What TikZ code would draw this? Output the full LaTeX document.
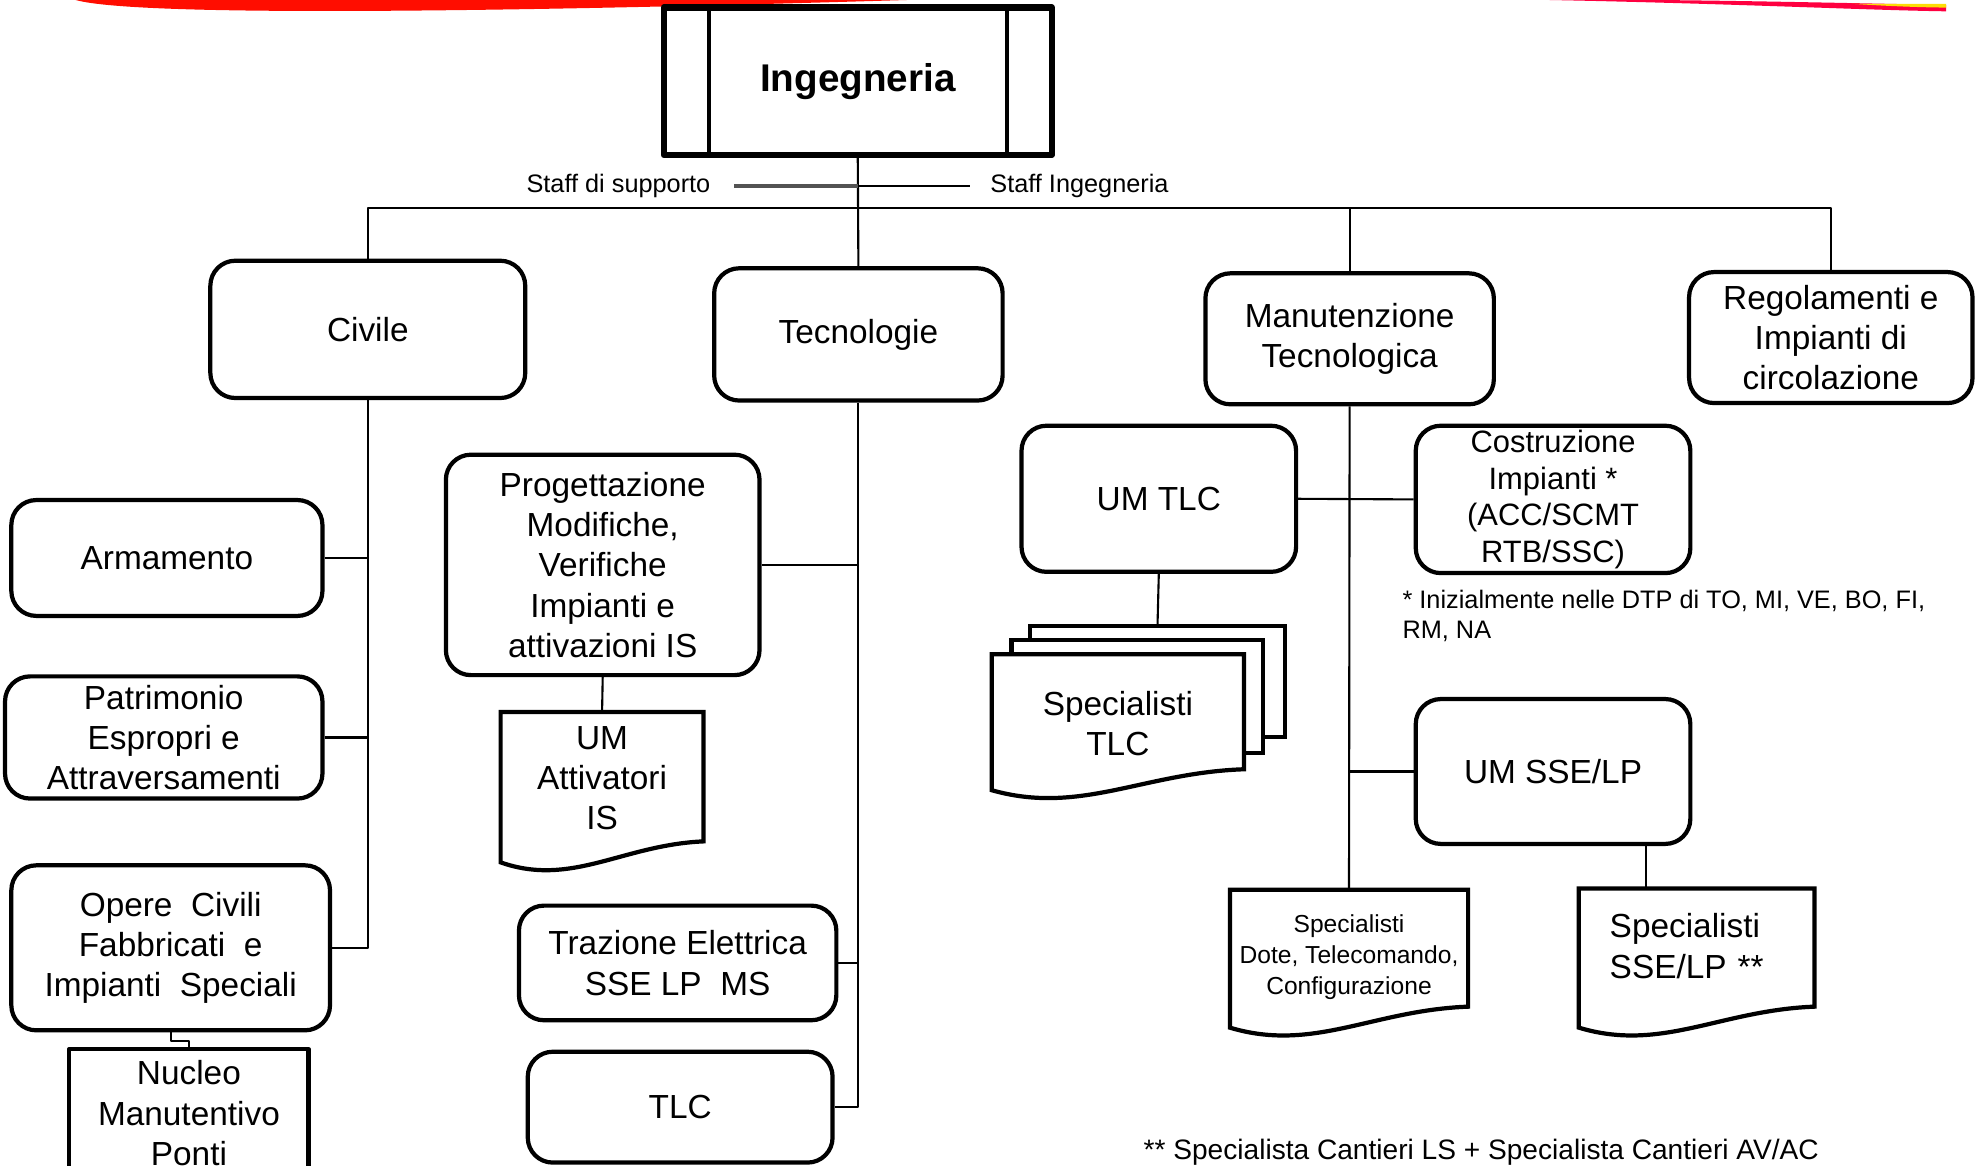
\documentclass[tikz,border=0pt]{standalone}
\usepackage{fontspec}
\setmainfont{Liberation Sans}
\usetikzlibrary{calc,backgrounds}

\def\px{0.126mm}
\tikzset{
	unit/.style={draw,line width=1.2pt,rounded corners=2.5mm,align=center,inner sep=1pt},
	wh/.style 2 args={minimum width={#1*\px},minimum height={#2*\px}},
	doc/.style={align=center,inner sep=1pt},
	page/.style={draw,fill=white,line width=1.2pt},
	link/.style={line width=0.6pt},
	note/.style={font=\fontsize{7.2}{8.6}\selectfont,inner sep=0pt,align=left},
}
% document shape with wavy bottom around a node, moved up or down by #2
\newcommand{\docshape}[2]{%
	\draw[line width=1.2pt,fill=white] ([yshift=#2]#1.north west) -- ([yshift=#2]#1.north east) -- ([yshift=1.05mm+#2]#1.south east)
	.. controls ($(#1.south west)!0.6!(#1.south east)+(0,0.7mm)+(0,#2)$) and ($(#1.south west)!0.35!(#1.south east)+(0,-3.55mm)+(0,#2)$) ..
	([yshift=-1.05mm+#2]#1.south west) -- cycle;}

\begin{document}
\begin{tikzpicture}[x=\px,y=-\px,line join=round,font=\fontsize{9.5}{11.5}\selectfont]
	\clip (0,0) rectangle (1568,925);
	\fill[red!90!orange] (60,0) .. controls (110,14) and (420,9) .. (720,0) -- cycle;
	\fill[red!75!magenta] (1230,0) .. controls (1380,3) and (1480,8) .. (1545,9) -- (1545,4) .. controls (1450,2) and (1350,0) .. (1300,0) -- cycle;
	\fill[yellow!80!orange] (1470,3) .. controls (1500,5) and (1530,6) .. (1545,6) -- (1545,3) -- cycle;
	
	% top
	\node[draw,line width=1.8pt,wh={308}{117},font=\fontsize{11}{13}\selectfont\bfseries] (ing) at (681,64.5) {Ingegneria};
	\draw[line width=1.2pt] ([xshift=4.8mm]ing.north west) -- ([xshift=4.8mm]ing.south west)
	([xshift=-4.8mm]ing.north east) -- ([xshift=-4.8mm]ing.south east);
	\node[note] (sup) at (491,148) {Staff di supporto};
	\node[note] (sting) at (857,148) {Staff Ingegneria};
	\path (583,148) coordinate (s1) (770,148) coordinate (s2) (681,165) coordinate (bus);
	
	\node[unit,wh={250}{109}] (civ) at (292,261.5) {Civile};
	\node[unit,wh={229}{105}] (tec) at (681.5,265.5) {Tecnologie};
	\node[unit,wh={229}{104}] (man) at (1071.5,269) {Manutenzione\\Tecnologica};
	\node[unit,wh={225}{104}] (reg) at (1453.5,268) {Regolamenti e\\Impianti di\\circolazione};
	
	% Civile
	\node[unit,wh={247}{92}] (arm) at (132.5,443) {Armamento};
	\node[unit,wh={252}{97}] (pat) at (130,585.5) {Patrimonio\\Espropri e\\Attraversamenti};
	\node[unit,wh={253}{131}] (ope) at (135.5,752.5) {Opere\ \ Civili\\Fabbricati\ \ e\\Impianti\ \ Speciali};
	\node[draw,line width=1.2pt,align=center,wh={190}{102}] (nuc) at (150,884) {Nucleo\\Manutentivo\\Ponti};
	
	% Tecnologie
	\node[unit,wh={249}{175}] (prog) at (478.5,448.5) {Progettazione\\Modifiche,\\Verifiche\\Impianti e\\attivazioni IS};
	\node[doc,wh={160}{110}] (umis) at (478,617.75) {UM\\Attivatori\\IS};
	\node[unit,wh={252}{91}] (tra) at (538,764.5) {Trazione Elettrica\\SSE LP\ \ MS};
	\node[unit,wh={242}{88}] (tlc) at (540,879) {TLC};
	
	% Manutenzione Tecnologica
	\node[unit,wh={218}{116}] (umtlc) at (920,396) {UM TLC};
	\node[unit,wh={218}{117},font=\fontsize{8.8}{10.4}\selectfont] (cos) at (1233,396.5) {Costruzione\\Impianti *\\(ACC/SCMT\\RTB/SSC)};
	\node[note,anchor=north west] (inz) at (1113,468) {* Inizialmente nelle DTP di TO, MI, VE, BO, FI,\\RM, NA};
	\node[unit,wh={218}{115}] (umsse) at (1233,612.5) {UM SSE/LP};
	\node[doc,wh={199}{98.5}] (tlcF) at (887.5,574.25) {Specialisti\\TLC};
	\node[doc,wh={188}{100},font=\fontsize{7}{8.8}\selectfont] (dote) at (1071,760) {Specialisti\\Dote, Telecomando,\\Configurazione};
	\node[doc,align=left,text width=17.39mm,inner xsep=3.02mm,minimum height={101*\px}] (ssp) at (1347,751) {Specialisti\\SSE/LP **};
	\node[font=\fontsize{8}{9.6}\selectfont,inner sep=0pt] (cant) at (1176,915) {** Specialista Cantieri LS + Specialista Cantieri AV/AC};
	
	\begin{pgfonlayer}{background}
		\node[page,wh={202}{88}] (tlcB) at (919,541) {};
		\node[page,wh={200}{90}] (tlcM) at (903,553) {};
		\foreach \d/\s in {tlcF/0.63mm,umis/-0.38mm,dote/0.38mm,ssp/-0.69mm}
		\docshape{\d}{\s};
	\end{pgfonlayer}
	
	% connectors
	\draw[link] (ing.south) -- (tec.north);
	\draw[line width=1.1pt,gray!65!black] (s1) -- (ing.south |- s1);
	\draw[link] (ing.south |- s1) -- (s2);
	\draw[link] (civ.north) -- (civ.north |- bus) -- (reg.north |- bus) -- (reg.north);
	\draw[link] (man.north) -- (man.north |- bus);
	
	\draw[link] (civ.south) |- (ope.east);
	\foreach \n in {arm,pat}
	\draw[link] (\n.east) -- (\n.east -| civ.south);
	\draw[link] (ope.south) -- ++(0,7) -| (nuc.north);
	
	\draw[link] (tec.south) |- (tlc.east);
	\foreach \n in {prog,tra}
	\draw[link] (\n.east) -- (\n.east -| tec.south);
	\draw[link] (prog.south) -- ([yshift=-0.38mm]umis.north);
	
	\draw[link] (man.south) -- ([yshift=0.38mm]dote.north);
	\draw[link] (umtlc.east) -- (cos.west);
	\draw[link] (umsse.west) -- (umsse.west -| man.south);
	\draw[link] (umtlc.south) -- (tlcB.north);
	\draw[link] ([xshift=9.3mm]umsse.south) -- ([xshift=9.3mm,yshift=-0.69mm]umsse.south |- ssp.north);
\end{tikzpicture}
\end{document}
